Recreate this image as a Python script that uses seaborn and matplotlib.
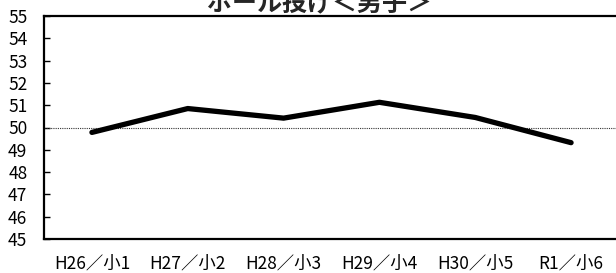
import numpy as np
import pandas as pd
import seaborn as sns
import matplotlib
import matplotlib.pyplot as plt

sns.set_style('ticks')
plt.rcParams['font.family'] = ['Noto Sans CJK JP', 'DejaVu Sans']

title = 'ボール投げ＜男子＞'
years = ['H26／小1', 'H27／小2', 'H28／小3', 'H29／小4', 'H30／小5', 'R1／小6']
scores = [49.78, 50.85, 50.42, 51.13, 50.45, 49.32]
y_ticks = list(range(45, 56))
ref_value = 50

df = pd.DataFrame({'year': years, 'score': scores})

fig = plt.figure(figsize=(6.16, 2.73), dpi=100)
ax = fig.add_axes([44 / 616, 34 / 273, 575 / 616, 223 / 273])

ax.axhline(ref_value, color='#333333', lw=0.8, ls=(0, (1, 1)), zorder=1)
sns.lineplot(data=df, x='year', y='score', color='black', linewidth=3.8,
             sort=False, ax=ax, zorder=3)

ax.set_xlim(-0.5, len(years) - 0.5)
ax.set_ylim(45, 55)
ax.set_yticks(y_ticks)
ax.set_xlabel('')
ax.set_ylabel('')

for side in ['left', 'top', 'bottom', 'right']:
    ax.spines[side].set_linewidth(1.6)
    ax.spines[side].set_color('black')

ax.tick_params(axis='y', direction='in', length=4, width=1, pad=12,
               labelsize=12.5, colors='black')
ax.tick_params(axis='x', length=0, pad=11, labelsize=12.5, colors='black')

fig.text(320 / 616, 1 - 11 / 273, title, ha='center', va='baseline',
         fontsize=18, fontweight='bold')

fig.savefig('out.png', dpi=100)
